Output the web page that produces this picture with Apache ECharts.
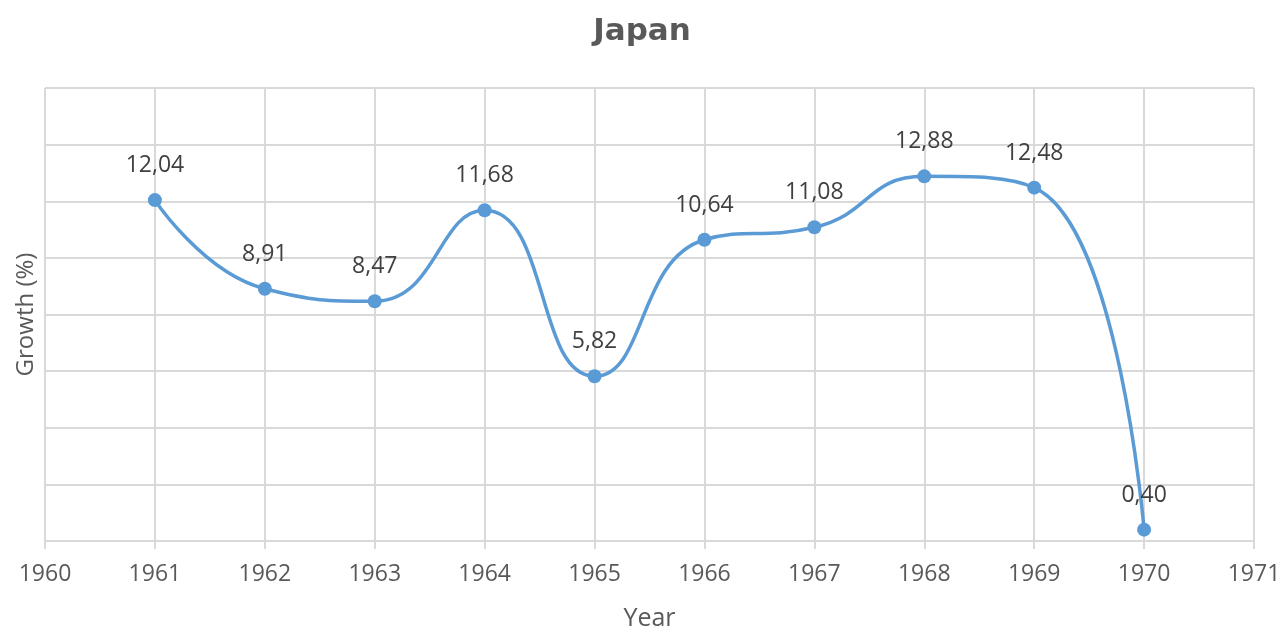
<!DOCTYPE html>
<html>
<head>
<meta charset="utf-8">
<script src="https://cdn.jsdelivr.net/npm/echarts@6/dist/echarts.min.js"></script>
<style>html,body{margin:0;padding:0;background:#fff;}#c{width:1284px;height:628px;}</style>
</head>
<body>
<div id="c"></div>
<script>
const title = 'Japan';
const years = [1961, 1962, 1963, 1964, 1965, 1966, 1967, 1968, 1969, 1970];
const growth = [12.04, 8.91, 8.47, 11.68, 5.82, 10.64, 11.08, 12.88, 12.48, 0.40];
const xAxisName = 'Year';
const yAxisName = 'Growth (%)';

const chart = echarts.init(document.getElementById('c'));
const font = 'Open Sans';
chart.setOption({
  animation: false,
  backgroundColor: '#fff',
  title: {
    text: title, left: 'center', top: 11,
    textStyle: {fontFamily: 'DejaVu Sans', fontSize: 31, fontWeight: 'bold', color: '#595959'}
  },
  grid: {left: 45, right: 30, top: 88, bottom: 87, containLabel: false, outerBoundsMode: 'none'},
  xAxis: {
    type: 'value', min: 1960, max: 1971, interval: 1,
    name: xAxisName, nameLocation: 'middle', nameGap: 65,
    nameTextStyle: {fontFamily: font, fontSize: 25, color: '#595959'},
    axisLine: {show: true, lineStyle: {color: '#d9d9d9', width: 2}},
    axisTick: {show: true, length: 8, lineStyle: {color: '#d9d9d9', width: 2}},
    axisLabel: {fontFamily: font, fontSize: 23, color: '#595959', margin: 22, formatter: v => String(v)},
    splitLine: {show: true, lineStyle: {color: '#d9d9d9', width: 2}}
  },
  yAxis: {
    type: 'value', min: 0, max: 16, interval: 2,
    name: yAxisName, nameLocation: 'middle', nameGap: 7, nameRotate: 90,
    nameTextStyle: {fontFamily: font, fontSize: 24, color: '#595959'},
    axisLine: {show: false}, axisTick: {show: false}, axisLabel: {show: false},
    splitLine: {show: true, lineStyle: {color: '#d9d9d9', width: 2}}
  },
  series: [{
    type: 'line',
    data: years.map((y, i) => [y, growth[i]]),
    smooth: 0.5,
    symbol: 'circle', symbolSize: 14,
    lineStyle: {color: '#5B9BD5', width: 3.5},
    itemStyle: {color: '#5B9BD5'},
    label: {
      show: true, position: 'top', distance: 16,
      fontFamily: font, fontSize: 23, color: '#404040',
      formatter: p => p.value[1].toFixed(2).replace('.', ',')
    }
  }]
});
</script>
</body>
</html>
